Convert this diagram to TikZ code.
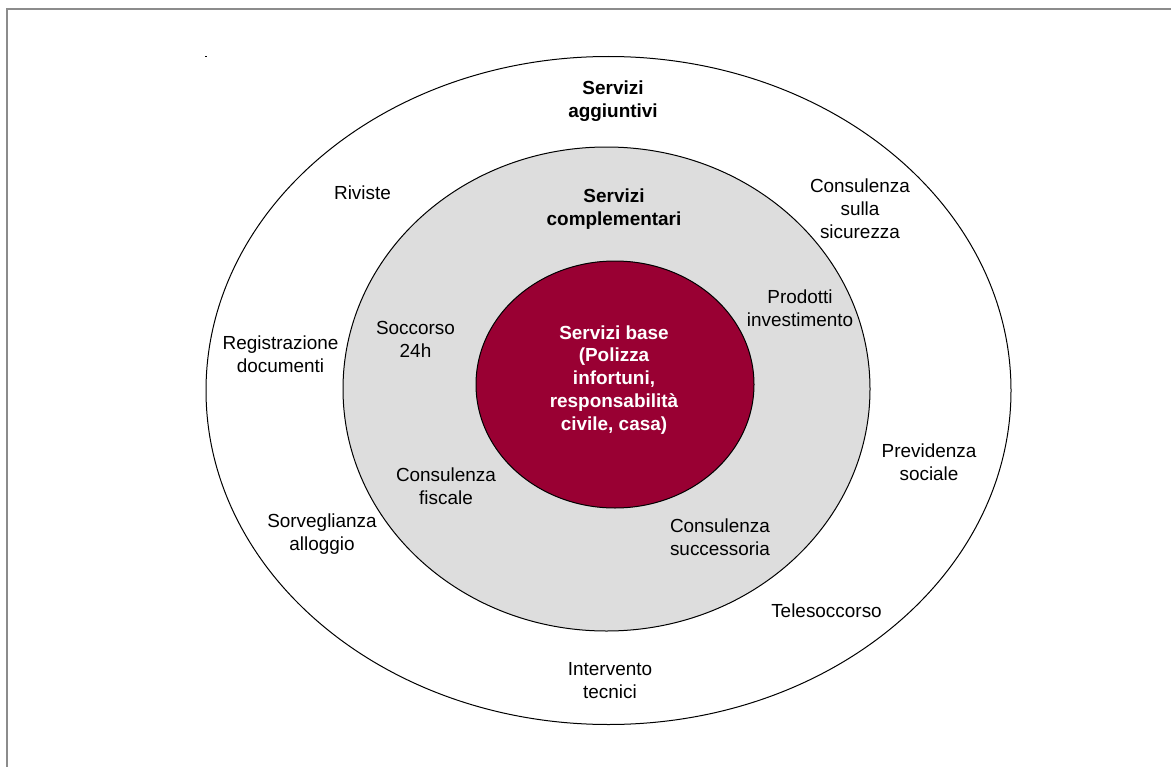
\documentclass[tikz,border=0pt]{standalone}
\usepackage{fontspec}
\setmainfont{Liberation Sans}
\usetikzlibrary{shapes.geometric}
\definecolor{basered}{HTML}{990033}
\definecolor{ringgrey}{HTML}{DDDDDD}
\definecolor{framegrey}{HTML}{8C8C8C}
\begin{document}
\begin{tikzpicture}[x=0.75pt,y=-0.75pt,
  ring/.style={ellipse,draw=black,line width=0.75pt,inner sep=0pt},
  lbl/.style={align=center,inner sep=0pt,
    font=\fontsize{14.2pt}{17.2pt}\selectfont},
  head/.style={lbl,font=\fontsize{14.2pt}{17.2pt}\selectfont\bfseries}]
\useasboundingbox (0,0) rectangle (1171,767);
% page frame
\draw[framegrey,line width=0.8pt] (7,767) -- (7,9) -- (1171,9);
\fill[black] (204.5,56) rectangle (206.5,57.3);
% three nested service rings
\node[ring,fill=white,minimum width=603.75pt,minimum height=501pt] (outer) at (608.5,390.5) {};
\node[ring,fill=ringgrey,minimum width=395.25pt,minimum height=363pt] (middle) at (606.5,389) {};
\node[ring,fill=basered,minimum width=208.5pt,minimum height=185.25pt] (core) at (615,384.5) {};
% core services
\node[head,text=white] (base) at (614,380) {Servizi base\\(Polizza\\infortuni,\\responsabilità\\civile, casa)};
% complementary services
\node[head] (compl) at (614,209) {Servizi\\complementari};
\node[lbl] (soccorso) at (415.5,339) {Soccorso\\24h};
\node[lbl] (prodotti) at (800,308) {Prodotti\\investimento};
\node[lbl] (fiscale) at (446,486.5) {Consulenza\\fiscale};
\node[lbl] (successoria) at (720,537) {Consulenza\\successoria};
% additional services
\node[head] (aggiunt) at (613,101.5) {Servizi\\aggiuntivi};
\node[lbl] (riviste) at (362.5,193) {Riviste};
\node[lbl] (sicurezza) at (860,209) {Consulenza\\sulla\\sicurezza};
\node[lbl] (registr) at (280.5,354.5) {Registrazione\\documenti};
\node[lbl] (previdenza) at (929,462) {Previdenza\\sociale};
\node[lbl] (sorveglianza) at (322,534) {Sorveglianza\\alloggio};
\node[lbl] (telesocc) at (826.5,610.5) {Telesoccorso};
\node[lbl] (intervento) at (610,680.5) {Intervento\\tecnici};
\end{tikzpicture}
\end{document}
